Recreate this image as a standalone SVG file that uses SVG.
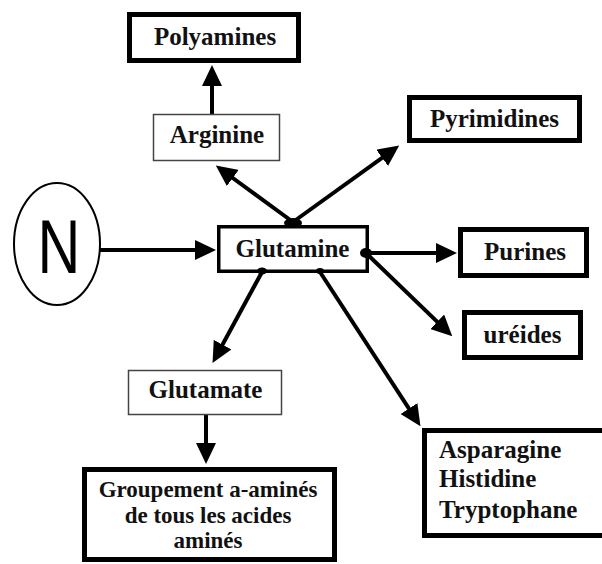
<svg xmlns="http://www.w3.org/2000/svg" width="602" height="564" viewBox="0 0 602 564">
<style>
.thick{fill:#fff;stroke:#000;stroke-width:5}
.mid{fill:#fff;stroke:#000;stroke-width:3.5}
.thin{fill:#fff;stroke:#444;stroke-width:1.5}
.t{font-family:"Liberation Serif","Times New Roman","DejaVu Serif",serif;font-weight:bold;font-size:25px;fill:#111;text-anchor:middle}
.tl{font-family:"Liberation Serif","Times New Roman","DejaVu Serif",serif;font-weight:bold;font-size:25px;fill:#111}
.ts{font-family:"Liberation Serif","Times New Roman","DejaVu Serif",serif;font-weight:bold;font-size:23px;fill:#111;text-anchor:middle}
.c{fill:none;stroke:#000;stroke-width:4}
</style>
<defs>
<marker id="ah" markerUnits="userSpaceOnUse" markerWidth="21" markerHeight="20" refX="11" refY="10" orient="auto">
<path d="M0,0 L21,10 L0,20 z" fill="#000"/>
</marker>
</defs>
<g id="connectors">
<line class="c" x1="212" y1="114" x2="212" y2="75" marker-end="url(#ah)"/>
<line class="c" x1="293" y1="222" x2="223.9" y2="171.5" marker-end="url(#ah)"/>
<line class="c" x1="293" y1="222" x2="391.1" y2="151.4" marker-end="url(#ah)"/>
<line class="c" x1="100" y1="250" x2="206" y2="250" marker-end="url(#ah)"/>
<line class="c" x1="366" y1="253" x2="447" y2="253" marker-end="url(#ah)"/>
<line class="c" x1="366" y1="253" x2="445.1" y2="329.4" marker-end="url(#ah)"/>
<line class="c" x1="320" y1="272" x2="415" y2="417.8" marker-end="url(#ah)"/>
<line class="c" x1="262" y1="272" x2="217.3" y2="354.3" marker-end="url(#ah)"/>
<line class="c" x1="206" y1="415" x2="206" y2="454" marker-end="url(#ah)"/>
</g>
<g id="N">
<ellipse cx="57" cy="244" rx="43" ry="61" fill="#fff" stroke="#000" stroke-width="2"/>
<text x="0" y="0" transform="translate(59,273) scale(0.78,1)" font-family="'Liberation Sans',Arial,sans-serif" font-size="76" text-anchor="middle" fill="#000">N</text>
</g>
<g id="polyamines">
<rect class="thick" x="129.5" y="14.5" width="169" height="46"/>
<text class="t" x="215" y="45">Polyamines</text>
</g>
<g id="arginine">
<rect class="thin" x="153.5" y="114.5" width="126" height="46"/>
<text class="t" x="217" y="143">Arginine</text>
</g>
<g id="pyrimidines">
<rect class="thick" x="409.5" y="97.5" width="170" height="43"/>
<text class="t" x="494.5" y="127">Pyrimidines</text>
</g>
<g id="glutamine">
<rect class="mid" x="218.75" y="226.75" width="148.5" height="44.5"/>
<text class="t" x="292.5" y="257">Glutamine</text>
<ellipse cx="293" cy="223" rx="9" ry="5" fill="#000"/>
<ellipse cx="366" cy="253" rx="6" ry="5" fill="#000"/>
<ellipse cx="262" cy="271" rx="5" ry="3.5" fill="#000"/>
<ellipse cx="320" cy="271" rx="4" ry="3" fill="#000"/>
</g>
<g id="purines">
<rect class="thick" x="460.5" y="229.5" width="126" height="46"/>
<text class="t" x="525" y="260">Purines</text>
</g>
<g id="ureides">
<rect class="thick" x="464.5" y="312.5" width="116" height="45"/>
<text class="t" x="522.5" y="343">uréides</text>
</g>
<g id="glutamate">
<rect class="thin" x="128.5" y="370.5" width="153" height="44"/>
<text class="t" x="205.5" y="398">Glutamate</text>
</g>
<g id="groupement">
<rect class="thick" x="84.5" y="469.5" width="250" height="90"/>
<text class="ts" x="208" y="497">Groupement a-aminés</text>
<text class="ts" x="208" y="523">de tous les acides</text>
<text class="ts" x="208" y="548">aminés</text>
</g>
<g id="asparagine">
<rect class="thick" x="424.5" y="430.5" width="200" height="105"/>
<text class="tl" x="439" y="458">Asparagine</text>
<text class="tl" x="439" y="487">Histidine</text>
<text class="tl" x="439" y="518">Tryptophane</text>
</g>
</svg>
